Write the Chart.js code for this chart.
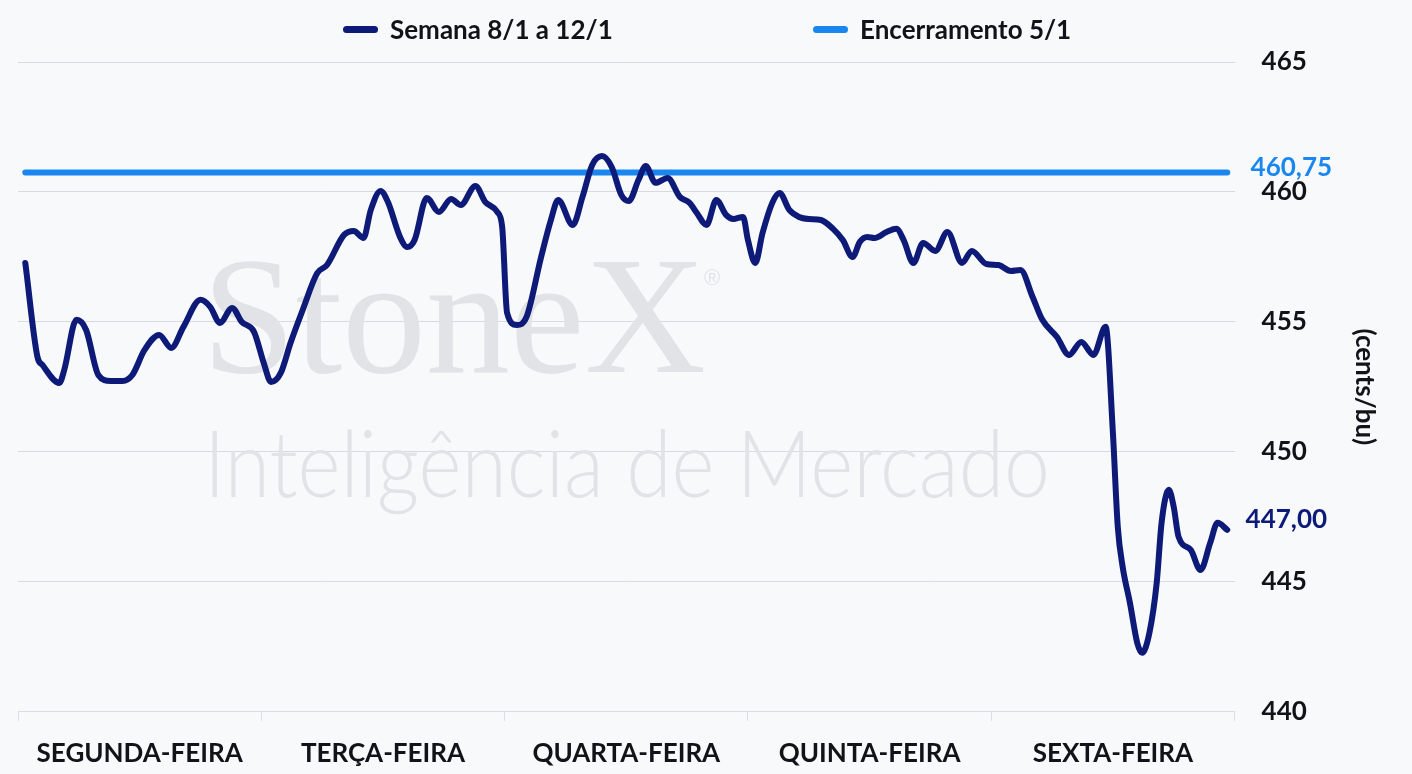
<!DOCTYPE html>
<html lang="pt-BR">
<head>
<meta charset="utf-8">
<script src="https://cdn.jsdelivr.net/npm/chart.js@4.4.1/dist/chart.umd.min.js"></script>
<style>
  html, body { margin: 0; padding: 0; background: #f8f9fb; }
  #wrap { position: relative; width: 1412px; height: 774px; }
  #legenda { position: absolute; top: 0; left: 0; width: 1412px; height: 58px; font: 700 26px Lato, sans-serif; color: #111318; }
  .item { position: absolute; top: 13px; display: flex; align-items: center; }
  .traco { width: 35px; height: 7px; border-radius: 4px; margin-right: 12px; }
</style>
</head>
<body>
<div id="wrap">
  <canvas id="grafico" width="1412" height="774"></canvas>
  <div id="legenda">
    <div class="item" style="left:343px"><span class="traco" style="background:#0d1a78"></span>Semana 8/1 a 12/1</div>
    <div class="item" style="left:813px"><span class="traco" style="background:#1a87f0"></span>Encerramento 5/1</div>
  </div>
</div>
<script>
// Dias da semana (eixo x)
const dias = ['SEGUNDA-FEIRA', 'TERÇA-FEIRA', 'QUARTA-FEIRA', 'QUINTA-FEIRA', 'SEXTA-FEIRA'];

// Momento de cada cotação, em dias desde a abertura de segunda-feira
const tempo = [
  0.03, 0.08, 0.10, 0.17, 0.19, 0.24, 0.28, 0.33, 0.38, 0.43,
  0.47, 0.52, 0.58, 0.63, 0.68, 0.75, 0.79, 0.83, 0.88, 0.92,
  0.97, 1.01, 1.04, 1.08, 1.12, 1.17, 1.23, 1.27, 1.34, 1.38,
  1.42, 1.45, 1.49, 1.52, 1.57, 1.60, 1.63, 1.68, 1.73, 1.78,
  1.82, 1.88, 1.92, 1.97, 1.99, 2.01, 2.05, 2.09, 2.15, 2.19,
  2.22, 2.28, 2.32, 2.36, 2.40, 2.44, 2.48, 2.51, 2.55, 2.58,
  2.62, 2.67, 2.72, 2.76, 2.79, 2.83, 2.87, 2.91, 2.94, 2.98,
  3.00, 3.03, 3.06, 3.10, 3.13, 3.17, 3.21, 3.25, 3.30, 3.35,
  3.39, 3.43, 3.46, 3.49, 3.52, 3.57, 3.61, 3.64, 3.68, 3.72,
  3.77, 3.82, 3.88, 3.92, 3.98, 4.03, 4.08, 4.12, 4.17, 4.21,
  4.27, 4.32, 4.37, 4.42, 4.47, 4.50, 4.52, 4.54, 4.57, 4.60,
  4.62, 4.65, 4.68, 4.70, 4.73, 4.75, 4.77, 4.82, 4.86, 4.90,
  4.93, 4.97
];

// Cotações da semana 8/1 a 12/1 (cents/bu)
const semana = [
  457.27, 453.65, 453.35, 452.65, 453.15, 455.08, 454.69, 452.96, 452.73, 452.73,
  452.96, 453.92, 454.50, 454.00, 454.81, 455.85, 455.58, 454.96, 455.54, 455.00,
  454.62, 453.42, 452.69, 453.04, 454.19, 455.46, 456.88, 457.19, 458.35, 458.50,
  458.23, 459.31, 460.04, 459.62, 458.27, 457.88, 458.15, 459.77, 459.23, 459.73,
  459.50, 460.23, 459.62, 459.23, 458.65, 455.35, 454.88, 455.19, 457.50, 458.92,
  459.69, 458.73, 459.81, 461.04, 461.38, 460.96, 459.88, 459.65, 460.46, 461.00,
  460.35, 460.54, 459.81, 459.58, 459.19, 458.73, 459.69, 459.12, 458.96, 459.04,
  458.15, 457.27, 458.42, 459.58, 459.96, 459.31, 459.04, 458.96, 458.92, 458.58,
  458.15, 457.50, 458.08, 458.27, 458.23, 458.46, 458.58, 458.15, 457.27, 458.04,
  457.73, 458.46, 457.27, 457.73, 457.23, 457.19, 456.96, 457.00, 455.96, 455.08,
  454.42, 453.73, 454.23, 453.73, 454.81, 450.73, 447.12, 445.58, 444.19, 442.65,
  442.27, 443.04, 444.96, 447.27, 448.54, 447.88, 446.73, 446.23, 445.46, 446.50,
  447.27, 447.00
];

// Fechamento de 5/1
const encerramento = 460.75;

// Escala do eixo y
const yMin = 440;
const yMax = 465;
const yPasso = 5;

const corSemana = '#0d1a78';
const corEncerramento = '#1a87f0';
const fonte = 'Lato, sans-serif';

// Monta os pontos {x, y} a partir das listas
const pontosSemana = tempo.map((t, i) => ({ x: t, y: semana[i] }));
const pontosEncerramento = [
  { x: tempo[0], y: encerramento },
  { x: tempo[tempo.length - 1], y: encerramento }
];

// Marca d'água StoneX
const marcaDagua = {
  id: 'marcaDagua',
  beforeDatasetsDraw(chart) {
    const ctx = chart.ctx;
    ctx.save();
    ctx.fillStyle = '#e2e3e6';
    ctx.textBaseline = 'alphabetic';
    ctx.font = '168px "Liberation Serif", serif';
    ctx.fillText('StoneX', 202, 372);
    ctx.font = '22px "Liberation Sans", sans-serif';
    ctx.fillText('®', 704, 285);
    ctx.font = '300 92px Lato, sans-serif';
    ctx.fillText('Inteligência de Mercado', 204, 497, 846);
    ctx.restore();
  }
};

// Rótulos de valor à direita das linhas
const rotulosValor = {
  id: 'rotulosValor',
  afterDatasetsDraw(chart) {
    const ctx = chart.ctx;
    const y = chart.scales.y;
    const x0 = chart.chartArea.right;
    const ultimo = semana[semana.length - 1];
    ctx.save();
    ctx.font = '700 26px ' + fonte;
    ctx.textBaseline = 'middle';
    ctx.fillStyle = corEncerramento;
    ctx.fillText(encerramento.toFixed(2).replace('.', ','), x0 + 16, y.getPixelForValue(encerramento) - 5);
    ctx.fillStyle = corSemana;
    ctx.fillText(ultimo.toFixed(2).replace('.', ','), x0 + 11, y.getPixelForValue(ultimo) - 10);
    ctx.restore();
  }
};

new Chart(document.getElementById('grafico'), {
  type: 'line',
  data: {
    labels: dias,
    datasets: [
      {
        label: 'Semana 8/1 a 12/1',
        data: pontosSemana,
        xAxisID: 'xt',
        borderColor: corSemana,
        borderWidth: 6,
        borderCapStyle: 'round',
        borderJoinStyle: 'round',
        pointRadius: 0,
        cubicInterpolationMode: 'monotone'
      },
      {
        label: 'Encerramento 5/1',
        data: pontosEncerramento,
        xAxisID: 'xt',
        borderColor: corEncerramento,
        borderWidth: 6,
        borderCapStyle: 'round',
        pointRadius: 0
      }
    ]
  },
  options: {
    responsive: false,
    animation: false,
    layout: { padding: { left: 18, top: 62, right: 26, bottom: -12 } },
    plugins: {
      legend: { display: false },
      tooltip: { enabled: false }
    },
    scales: {
      x: {
        type: 'category',
        offset: true,
        border: { color: '#dcdde0', width: 1 },
        grid: { offset: true, drawOnChartArea: false, drawTicks: true, tickLength: 9, color: '#dcdde0' },
        ticks: { color: '#111318', font: { family: fonte, size: 26, weight: '700' }, padding: 17, maxRotation: 0 }
      },
      xt: {
        type: 'linear',
        display: false,
        min: 0,
        max: dias.length
      },
      y: {
        position: 'right',
        min: yMin,
        max: yMax,
        border: { display: false },
        grid: { color: '#d9dadd', borderDash: [2, 2], drawTicks: false },
        ticks: { stepSize: yPasso, color: '#111318', font: { family: fonte, size: 26, weight: '700' }, padding: 27 },
        title: {
          display: true,
          text: '(cents/bu)',
          color: '#111318',
          font: { family: fonte, size: 26, weight: '700' },
          padding: { top: 6, bottom: 15 }
        }
      }
    }
  },
  plugins: [marcaDagua, rotulosValor]
});
</script>
</body>
</html>
